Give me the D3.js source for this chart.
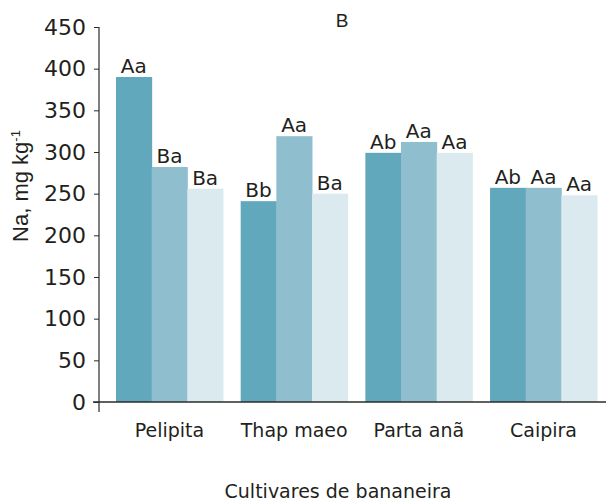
<!DOCTYPE html>
<html>
<head>
<meta charset="utf-8">
<script src="https://cdn.jsdelivr.net/npm/d3@7"></script>
<style>
  body { margin: 0; background: #fff; }
  svg { display: block; }
</style>
</head>
<body>
<div id="chart"></div>
<script>
// Cultivars and the three treatments per cultivar (Na, mg kg-1)
const cultivars = ['Pelipita', 'Thap maeo', 'Parta anã', 'Caipira'];
const seriesA = [390, 241, 299, 257];
const seriesB = [282, 319, 312, 257];
const seriesC = [256, 250, 299, 248];
const lettersA = ['Aa', 'Bb', 'Ab', 'Ab'];
const lettersB = ['Ba', 'Aa', 'Aa', 'Aa'];
const lettersC = ['Ba', 'Ba', 'Aa', 'Aa'];
const yTicks = [0, 50, 100, 150, 200, 250, 300, 350, 400, 450];

const cfg = {
  w: 606,
  h: 504,
  left: 99,
  top: 27,
  bottom: 402,
  colors: ['#62a8bd', '#8fbfce', '#daeaef'],
  axisColor: '#2b2b2b',
  textColor: '#231f20',
  font: 'DejaVu Sans, sans-serif',
  titleFont: 'Liberation Sans, Arial, sans-serif',
};

const series = [seriesA, seriesB, seriesC];
const letters = [lettersA, lettersB, lettersC];

const svg = d3.select('#chart')
  .append('svg')
  .attr('width', cfg.w)
  .attr('height', cfg.h);

const y = d3.scaleLinear()
  .domain([0, 450])
  .range([cfg.bottom, cfg.top]);

const x = d3.scaleBand()
  .domain(cultivars)
  .range([cfg.left + 17, cfg.w - 9])
  .paddingInner(0.142)
  .paddingOuter(0);

const xSub = d3.scaleBand()
  .domain([0, 1, 2])
  .range([0, x.bandwidth()])
  .padding(0);

// bars
series.forEach((values, s) => {
  svg.append('g')
    .selectAll('rect')
    .data(values)
    .enter()
    .append('rect')
    .attr('x', (_, i) => x(cultivars[i]) + xSub(s))
    .attr('y', d => y(d))
    .attr('width', xSub.bandwidth() + 0.5)
    .attr('height', d => y(0) - y(d))
    .style('fill', cfg.colors[s]);
});

// letters above bars
series.forEach((values, s) => {
  svg.append('g')
    .selectAll('text')
    .data(values)
    .enter()
    .append('text')
    .attr('x', (_, i) => x(cultivars[i]) + xSub(s) + xSub.bandwidth() / 2)
    .attr('y', d => y(d) - 4)
    .attr('text-anchor', 'middle')
    .style('font-family', cfg.font)
    .style('font-size', '20px')
    .style('fill', cfg.textColor)
    .text((_, i) => letters[s][i]);
});

// y axis
const yAxis = svg.append('g')
  .attr('transform', `translate(${cfg.left}, 0)`)
  .call(d3.axisLeft(y).tickValues(yTicks).tickSize(5).tickPadding(8));
yAxis.select('.domain').remove();
yAxis.selectAll('line').style('stroke', cfg.axisColor);
yAxis.selectAll('text')
  .style('font-family', cfg.font)
  .style('font-size', '22px')
  .style('fill', cfg.textColor);

svg.append('line')
  .attr('x1', cfg.left)
  .attr('x2', cfg.left)
  .attr('y1', y(450))
  .attr('y2', y(0) + 10)
  .style('stroke', cfg.axisColor)
  .style('stroke-width', '1.2px');

svg.append('line')
  .attr('x1', cfg.left - 6)
  .attr('x2', cfg.w)
  .attr('y1', y(0))
  .attr('y2', y(0))
  .style('stroke', cfg.axisColor)
  .style('stroke-width', '1.5px');

// x axis labels
const xAxis = svg.append('g')
  .attr('transform', `translate(0, ${cfg.bottom})`)
  .call(d3.axisBottom(x).tickSize(0).tickPadding(22));
xAxis.select('.domain').remove();
xAxis.selectAll('text')
  .style('font-family', cfg.font)
  .style('font-size', '19px')
  .style('fill', cfg.textColor);

// titles
svg.append('text')
  .attr('x', 342)
  .attr('y', 27)
  .attr('text-anchor', 'middle')
  .style('font-family', cfg.titleFont)
  .style('font-size', '19px')
  .style('fill', cfg.textColor)
  .text('B');

svg.append('text')
  .attr('x', 338)
  .attr('y', 498)
  .attr('text-anchor', 'middle')
  .style('font-family', cfg.font)
  .style('font-size', '19px')
  .style('fill', cfg.textColor)
  .text('Cultivares de bananeira');

const yTitle = svg.append('text')
  .attr('transform', 'translate(28, 186) rotate(-90)')
  .attr('text-anchor', 'middle')
  .style('font-family', cfg.titleFont)
  .style('font-size', '22px')
  .style('fill', cfg.textColor);
yTitle.append('tspan').text('Na, mg kg');
yTitle.append('tspan')
  .attr('dy', '-0.6em')
  .style('font-size', '13px')
  .text('-1');
</script>
</body>
</html>
